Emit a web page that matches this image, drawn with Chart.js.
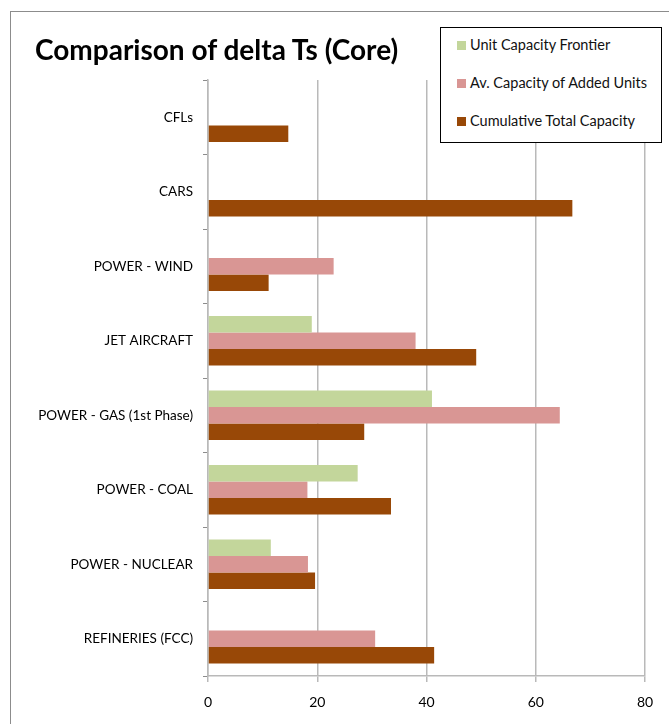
<!DOCTYPE html>
<html>
<head>
<meta charset="utf-8">
<script src="https://cdn.jsdelivr.net/npm/chart.js@4"></script>
<style>
  html, body { margin: 0; padding: 0; background: #fff; overflow: hidden; }
  #wrap { position: relative; width: 669px; height: 724px; }
  #frame { position: absolute; left: 10px; top: 11px; width: 700px; height: 800px; border: 1.5px solid #8c8c8c; }
  #chart { position: absolute; left: 0; top: 0; }
  #title { position: absolute; left: 35px; top: 32px; font: bold 28px Lato, sans-serif; color: #000; white-space: nowrap; }
  #legend { position: absolute; left: 440px; top: 27px; width: 220px; height: 114px; border: 1px solid #000; background: #fff; }
  .legend-item { position: absolute; left: 16px; font: 14.5px Lato, sans-serif; color: #111; white-space: nowrap; }
  .legend-item span { display: inline-block; width: 9px; height: 9px; margin-right: 4px; vertical-align: 0px; }
</style>
</head>
<body>
<div id="wrap">
  <div id="frame"></div>
  <canvas id="chart" width="669" height="724"></canvas>
  <div id="title">Comparison of delta Ts (Core)</div>
  <div id="legend"></div>
</div>
<script>
// Categories, top to bottom
const categories = [
  'CFLs',
  'CARS',
  'POWER - WIND',
  'JET AIRCRAFT',
  'POWER - GAS (1st Phase)',
  'POWER - COAL',
  'POWER - NUCLEAR',
  'REFINERIES (FCC)'
];

// Series values (null = no bar)
const unitFrontier = [null, null, null, 19.0, 41.0, 27.4, 11.5, null];
const avAddedUnits = [null, null, 23.0, 38.0, 64.4, 18.2, 18.3, 30.6];
const cumulativeTotal = [14.7, 66.7, 11.1, 49.1, 28.6, 33.5, 19.6, 41.4];

const seriesNames = ['Unit Capacity Frontier', 'Av. Capacity of Added Units', 'Cumulative Total Capacity'];
const seriesColors = ['#c3d69b', '#d99694', '#984807'];

// X axis ticks
const xTicks = [0, 20, 40, 60, 80];

const gridGray = '#b9b9b9';

const chart = new Chart(document.getElementById('chart').getContext('2d'), {
  type: 'bar',
  data: {
    labels: categories,
    datasets: [unitFrontier, avAddedUnits, cumulativeTotal].map((values, i) => ({
      label: seriesNames[i],
      data: values,
      backgroundColor: seriesColors[i],
      borderWidth: 0,
      categoryPercentage: 0.667,
      barPercentage: 1.0
    }))
  },
  options: {
    indexAxis: 'y',
    responsive: false,
    animation: false,
    layout: { padding: { top: 80, right: 24, bottom: 0, left: 0 } },
    plugins: {
      legend: { display: false },
      title: { display: false },
      tooltip: { enabled: false }
    },
    scales: {
      x: {
        min: xTicks[0],
        max: xTicks[xTicks.length - 1],
        afterFit: scale => { scale.height = 48; },
        afterBuildTicks: scale => { scale.ticks = xTicks.map(v => ({ value: v })); },
        ticks: {
          color: '#000',
          padding: 12,
          font: { family: 'Lato', size: 14 }
        },
        grid: { color: gridGray, lineWidth: 1.5, tickLength: 6 },
        border: { color: gridGray, width: 1.5 }
      },
      y: {
        afterFit: scale => { scale.width = 208; },
        ticks: {
          color: '#000',
          padding: 10,
          font: { family: 'Lato', size: 13.5 }
        },
        grid: { offset: true, drawOnChartArea: false, color: '#8c8c8c', tickLength: 5 },
        border: { color: gridGray, width: 1.5 }
      }
    }
  }
});

// Legend built from the series
const legend = document.getElementById('legend');
const legendTops = [8, 46, 84];
seriesNames.forEach((name, i) => {
  const item = document.createElement('div');
  item.className = 'legend-item';
  item.style.top = legendTops[i] + 'px';
  item.innerHTML = `<span style="background:${seriesColors[i]}"></span>${name}`;
  legend.appendChild(item);
});
</script>
</body>
</html>
